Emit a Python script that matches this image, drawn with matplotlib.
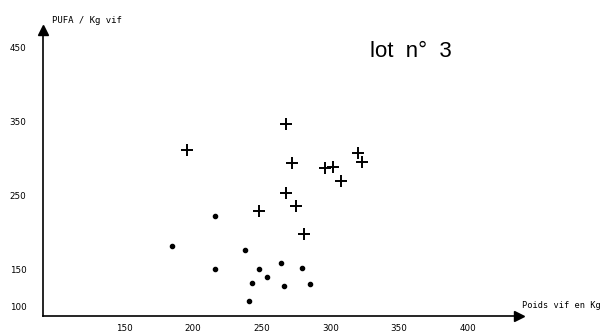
#scatter of PUFA per Kg live weight against live weight, lot 3
import matplotlib
matplotlib.use("Agg")
import matplotlib.pyplot as plt
import numpy as np

#crosses
crossX = [196, 268, 272, 268, 248, 275, 281, 296, 302, 308, 320, 323]
crossY = [311, 347, 294, 253, 229, 236, 198, 287, 289, 270, 308, 296]
#dots
dotX = [185, 216, 216, 238, 248, 243, 254, 241, 264, 266, 279, 285]
dotY = [182, 222, 150, 176, 150, 131, 140, 107, 158, 127, 151, 130]

xticks = [150, 200, 250, 300, 350, 400]
yticks = [100, 150, 250, 350, 450]

fig = plt.figure(figsize=(6.03, 3.34), dpi=100)
ax = fig.add_axes([0.0713, 0.054, 0.789, 0.856])
ax.scatter(crossX, crossY, marker='+', s=70, linewidths=1.4, color='black')
ax.scatter(dotX, dotY, marker='o', s=9, color='black')

ax.set_xlim(91, 437)
ax.set_ylim(86.6, 474.3)
ax.set_xticks(xticks)
ax.set_yticks(yticks)
ax.tick_params(length=0, labelsize=6.3)
ax.tick_params(axis='x', pad=6)
ax.tick_params(axis='y', pad=12)

#only the two axes, with arrow heads
ax.spines['top'].set_visible(False)
ax.spines['right'].set_visible(False)
ax.spines['left'].set_linewidth(1.2)
ax.spines['bottom'].set_linewidth(1.2)
ax.plot(1, 0, '>k', markersize=7, transform=ax.transAxes, clip_on=False)
ax.plot(0, 1, '^k', markersize=7, transform=ax.transAxes, clip_on=False)

#axis titles, typewriter style
fig.text(0.086, 0.94, 'PUFA / Kg vif', family='DejaVu Sans Mono', fontsize=6.5, va='center')
fig.text(0.866, 0.084, 'Poids vif en Kg', family='DejaVu Sans Mono', fontsize=6.2, va='center')
fig.text(0.614, 0.845, 'lot  n\u00b0  3', family='Liberation Sans', fontsize=16, va='center')

plt.savefig('out.png', dpi=100)
